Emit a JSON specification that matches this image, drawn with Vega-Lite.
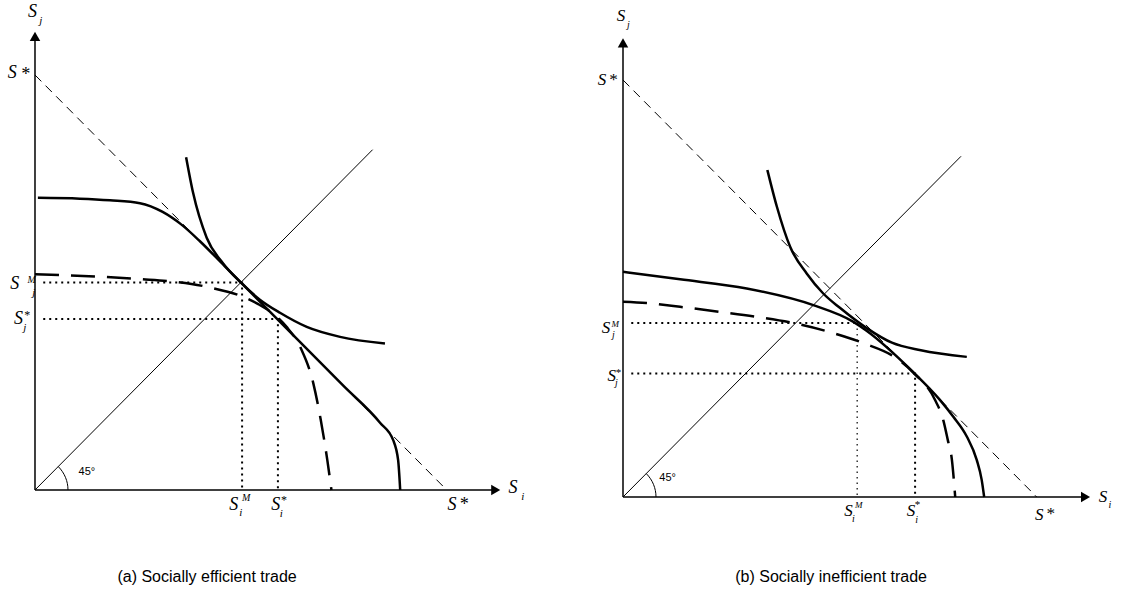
{
  "$schema": "https://vega.github.io/schema/vega-lite/v6.json",
  "padding": 0,
  "spacing": 0,
  "bounds": "flush",
  "background": "white",
  "config": {"view": {"stroke": null}, "concat": {"spacing": 0}},
  "datasets": {
    "curves": [
      {"p":"a","c":"xaxis","k":0,"x":0,"y":0},{"p":"a","c":"xaxis","k":1,"x":11.19,"y":0},
      {"p":"a","c":"yaxis","k":0,"x":0,"y":0},{"p":"a","c":"yaxis","k":1,"x":0,"y":10.93},
      {"p":"a","c":"sline","k":0,"x":0,"y":10},{"p":"a","c":"sline","k":1,"x":10,"y":0},
      {"p":"a","c":"diag","k":0,"x":0,"y":0},{"p":"a","c":"diag","k":1,"x":8.2,"y":8.2},
      {"p":"a","c":"dotM","k":0,"x":0.2,"y":5.0},{"p":"a","c":"dotM","k":1,"x":5.03,"y":5.0},{"p":"a","c":"dotM","k":2,"x":5.03,"y":0},
      {"p":"a","c":"dotS","k":0,"x":0.2,"y":4.12},{"p":"a","c":"dotS","k":1,"x":5.9,"y":4.12},{"p":"a","c":"dotS","k":2,"x":5.9,"y":0},
      {"p":"a","c":"conv","k":0,"x":3.67,"y":8.02},{"p":"a","c":"conv","k":1,"x":3.84,"y":7.16},{"p":"a","c":"conv","k":2,"x":4.17,"y":6.08},{"p":"a","c":"conv","k":3,"x":4.57,"y":5.46},{"p":"a","c":"conv","k":4,"x":5.0,"y":5.0},{"p":"a","c":"conv","k":5,"x":5.47,"y":4.58},{"p":"a","c":"conv","k":6,"x":5.95,"y":4.27},{"p":"a","c":"conv","k":7,"x":6.60,"y":3.93},{"p":"a","c":"conv","k":8,"x":7.41,"y":3.69},{"p":"a","c":"conv","k":9,"x":8.50,"y":3.53},
      {"p":"a","c":"ppf","k":0,"x":0.07,"y":7.04},{"p":"a","c":"ppf","k":1,"x":1.09,"y":7.02},{"p":"a","c":"ppf","k":2,"x":1.82,"y":6.98},{"p":"a","c":"ppf","k":3,"x":2.55,"y":6.91},{"p":"a","c":"ppf","k":4,"x":3.1,"y":6.70},{"p":"a","c":"ppf","k":5,"x":3.55,"y":6.40},{"p":"a","c":"ppf","k":6,"x":4.0,"y":6.0},{"p":"a","c":"ppf","k":7,"x":4.6,"y":5.4},{"p":"a","c":"ppf","k":8,"x":6.0,"y":4.0},{"p":"a","c":"ppf","k":9,"x":7.5,"y":2.5},{"p":"a","c":"ppf","k":10,"x":8.38,"y":1.62},{"p":"a","c":"ppf","k":11,"x":8.70,"y":1.2},{"p":"a","c":"ppf","k":12,"x":8.82,"y":0.72},{"p":"a","c":"ppf","k":13,"x":8.87,"y":0},
      {"p":"a","c":"dash","k":0,"x":0,"y":5.2},{"p":"a","c":"dash","k":1,"x":0.61,"y":5.18},{"p":"a","c":"dash","k":2,"x":1.58,"y":5.14},{"p":"a","c":"dash","k":3,"x":2.6,"y":5.08},{"p":"a","c":"dash","k":4,"x":3.36,"y":5.02},{"p":"a","c":"dash","k":5,"x":4.25,"y":4.88},{"p":"a","c":"dash","k":6,"x":5.14,"y":4.62},{"p":"a","c":"dash","k":7,"x":5.42,"y":4.48},{"p":"a","c":"dash","k":8,"x":5.91,"y":4.14},{"p":"a","c":"dash","k":9,"x":6.11,"y":3.93},{"p":"a","c":"dash","k":10,"x":6.46,"y":3.41},{"p":"a","c":"dash","k":11,"x":6.76,"y":2.57},{"p":"a","c":"dash","k":12,"x":6.94,"y":1.69},{"p":"a","c":"dash","k":13,"x":7.1,"y":0.72},{"p":"a","c":"dash","k":14,"x":7.2,"y":0},

      {"p":"b","c":"xaxis","k":0,"x":0,"y":0},{"p":"b","c":"xaxis","k":1,"x":11.18,"y":0},
      {"p":"b","c":"yaxis","k":0,"x":0,"y":0},{"p":"b","c":"yaxis","k":1,"x":0,"y":10.89},
      {"p":"b","c":"sline","k":0,"x":0,"y":10},{"p":"b","c":"sline","k":1,"x":10,"y":0},
      {"p":"b","c":"diag","k":0,"x":0,"y":0},{"p":"b","c":"diag","k":1,"x":8.17,"y":8.17},
      {"p":"b","c":"dotM","k":0,"x":0.2,"y":4.17},{"p":"b","c":"dotM","k":1,"x":5.66,"y":4.17},
      {"p":"b","c":"dotMv","k":0,"x":5.66,"y":4.17},{"p":"b","c":"dotMv","k":1,"x":5.66,"y":0},
      {"p":"b","c":"dotS","k":0,"x":0.2,"y":2.96},{"p":"b","c":"dotS","k":1,"x":7.06,"y":2.96},{"p":"b","c":"dotS","k":2,"x":7.06,"y":0},
      {"p":"b","c":"conv","k":0,"x":3.49,"y":7.84},{"p":"b","c":"conv","k":1,"x":3.72,"y":6.96},{"p":"b","c":"conv","k":2,"x":4.04,"y":6.0},{"p":"b","c":"conv","k":3,"x":4.44,"y":5.36},{"p":"b","c":"conv","k":4,"x":4.84,"y":4.88},{"p":"b","c":"conv","k":5,"x":5.25,"y":4.53},{"p":"b","c":"conv","k":6,"x":5.89,"y":4.05},{"p":"b","c":"conv","k":7,"x":6.5,"y":3.70},{"p":"b","c":"conv","k":8,"x":7.2,"y":3.52},{"p":"b","c":"conv","k":9,"x":8.31,"y":3.36},
      {"p":"b","c":"ppf","k":0,"x":0,"y":5.40},{"p":"b","c":"ppf","k":1,"x":1.38,"y":5.22},{"p":"b","c":"ppf","k":2,"x":2.99,"y":5.0},{"p":"b","c":"ppf","k":3,"x":4.60,"y":4.60},{"p":"b","c":"ppf","k":4,"x":5.57,"y":4.20},{"p":"b","c":"ppf","k":5,"x":5.87,"y":4.0},{"p":"b","c":"ppf","k":6,"x":7.01,"y":3.0},{"p":"b","c":"ppf","k":7,"x":7.66,"y":2.33},{"p":"b","c":"ppf","k":8,"x":7.98,"y":1.93},{"p":"b","c":"ppf","k":9,"x":8.31,"y":1.45},{"p":"b","c":"ppf","k":10,"x":8.55,"y":0.89},{"p":"b","c":"ppf","k":11,"x":8.67,"y":0.41},{"p":"b","c":"ppf","k":12,"x":8.73,"y":0},
      {"p":"b","c":"dash","k":0,"x":0,"y":4.68},{"p":"b","c":"dash","k":1,"x":0.57,"y":4.65},{"p":"b","c":"dash","k":2,"x":1.38,"y":4.56},{"p":"b","c":"dash","k":3,"x":2.34,"y":4.44},{"p":"b","c":"dash","k":4,"x":3.23,"y":4.32},{"p":"b","c":"dash","k":5,"x":4.12,"y":4.17},{"p":"b","c":"dash","k":6,"x":5.08,"y":3.93},{"p":"b","c":"dash","k":7,"x":5.81,"y":3.69},{"p":"b","c":"dash","k":8,"x":6.62,"y":3.32},{"p":"b","c":"dash","k":9,"x":7.01,"y":2.99},{"p":"b","c":"dash","k":10,"x":7.54,"y":2.33},{"p":"b","c":"dash","k":11,"x":7.74,"y":1.85},{"p":"b","c":"dash","k":12,"x":7.85,"y":1.37},{"p":"b","c":"dash","k":13,"x":7.95,"y":0.89},{"p":"b","c":"dash","k":14,"x":8.03,"y":0}
    ],
    "marks": [
      {"p":"a","kind":"up","x":0,"y":10.93},{"p":"a","kind":"right","x":11.19,"y":0},{"p":"a","kind":"arc","x":0,"y":0},
      {"p":"b","kind":"up","x":0,"y":10.89},{"p":"b","kind":"right","x":11.18,"y":0},{"p":"b","kind":"arc","x":0,"y":0}
    ],
    "labels": [
      {"p":"a","r":"S","t":"S","x":-0.06,"y":11.52},{"p":"a","r":"sub","t":"j","x":0.14,"y":11.3},
      {"p":"a","r":"S","t":"S","x":-0.55,"y":10.04},{"p":"a","r":"S","t":"*","x":-0.24,"y":10.0},
      {"p":"a","r":"S","t":"S","x":-0.49,"y":4.96},{"p":"a","r":"sup","t":"M","x":-0.08,"y":5.06},{"p":"a","r":"sub","t":"j","x":-0.03,"y":4.75},
      {"p":"a","r":"S","t":"S","x":-0.40,"y":4.12},{"p":"a","r":"star","t":"*","x":-0.19,"y":4.22},{"p":"a","r":"sub","t":"j","x":-0.25,"y":3.90},
      {"p":"a","r":"S","t":"S","x":4.83,"y":-0.36},{"p":"a","r":"sup","t":"M","x":5.13,"y":-0.19},{"p":"a","r":"sub","t":"i","x":5.0,"y":-0.55},
      {"p":"a","r":"S","t":"S","x":5.85,"y":-0.36},{"p":"a","r":"star","t":"*","x":6.05,"y":-0.24},{"p":"a","r":"sub","t":"i","x":5.98,"y":-0.57},
      {"p":"a","r":"S","t":"S","x":10.13,"y":-0.37},{"p":"a","r":"S","t":"*","x":10.41,"y":-0.36},
      {"p":"a","r":"S","t":"S","x":11.61,"y":0.05},{"p":"a","r":"sub","t":"i","x":11.85,"y":-0.17},
      {"p":"a","r":"deg","t":"45°","x":1.26,"y":0.43},
      {"p":"a","r":"cap","t":"(a) Socially efficient trade","x":4.18,"y":-2.10},

      {"p":"b","r":"S","t":"S","x":-0.05,"y":11.53},{"p":"b","r":"sub","t":"j","x":0.13,"y":11.32},
      {"p":"b","r":"S","t":"S","x":-0.51,"y":10.0},{"p":"b","r":"S","t":"*","x":-0.25,"y":10.0},
      {"p":"b","r":"S","t":"S","x":-0.41,"y":4.05},{"p":"b","r":"sup","t":"M","x":-0.19,"y":4.15},{"p":"b","r":"sub","t":"j","x":-0.23,"y":3.88},
      {"p":"b","r":"S","t":"S","x":-0.27,"y":2.90},{"p":"b","r":"star","t":"*","x":-0.11,"y":2.98},{"p":"b","r":"sub","t":"j","x":-0.16,"y":2.74},
      {"p":"b","r":"S","t":"S","x":5.45,"y":-0.34},{"p":"b","r":"sup","t":"M","x":5.70,"y":-0.20},{"p":"b","r":"sub","t":"i","x":5.57,"y":-0.53},
      {"p":"b","r":"S","t":"S","x":6.96,"y":-0.34},{"p":"b","r":"star","t":"*","x":7.12,"y":-0.18},{"p":"b","r":"sub","t":"i","x":7.10,"y":-0.55},
      {"p":"b","r":"S","t":"S","x":10.06,"y":-0.43},{"p":"b","r":"S","t":"*","x":10.32,"y":-0.41},
      {"p":"b","r":"S","t":"S","x":11.60,"y":0.0},{"p":"b","r":"sub","t":"i","x":11.77,"y":-0.19},
      {"p":"b","r":"deg","t":"45°","x":1.08,"y":0.46},
      {"p":"b","r":"cap","t":"(b) Socially inefficient trade","x":5.03,"y":-1.92}
    ]
  },
  "hconcat": [
    {
      "width": 562, "height": 599,
      "encoding": {
        "x": {"field": "x", "type": "quantitative", "axis": null, "scale": {"domain": [-0.85, 12.8], "nice": false, "zero": false}},
        "y": {"field": "y", "type": "quantitative", "axis": null, "scale": {"domain": [-2.627, 11.807], "nice": false, "zero": false}}
      },
      "layer": [
        {"data": {"name": "curves"}, "transform": [{"filter": "datum.p === 'a' && (datum.c === 'xaxis' || datum.c === 'yaxis')"}],
         "mark": {"type": "line", "color": "black", "strokeWidth": 1.5}, "encoding": {"detail": {"field": "c"}, "order": {"field": "k"}}},
        {"data": {"name": "curves"}, "transform": [{"filter": "datum.p === 'a' && datum.c === 'sline'"}],
         "mark": {"type": "line", "color": "black", "strokeWidth": 1, "strokeDash": [9, 6]}, "encoding": {"order": {"field": "k"}}},
        {"data": {"name": "curves"}, "transform": [{"filter": "datum.p === 'a' && datum.c === 'diag'"}],
         "mark": {"type": "line", "color": "black", "strokeWidth": 1}, "encoding": {"order": {"field": "k"}}},
        {"data": {"name": "curves"}, "transform": [{"filter": "datum.p === 'a' && (datum.c === 'dotM' || datum.c === 'dotS')"}],
         "mark": {"type": "line", "color": "black", "strokeWidth": 2, "strokeDash": [2, 4], "strokeCap": "butt"}, "encoding": {"detail": {"field": "c"}, "order": {"field": "k"}}},
        {"data": {"name": "curves"}, "transform": [{"filter": "datum.p === 'a' && (datum.c === 'conv' || datum.c === 'ppf')"}],
         "mark": {"type": "line", "color": "black", "strokeWidth": 2.5, "interpolate": "monotone"}, "encoding": {"detail": {"field": "c"}, "order": {"field": "k"}}},
        {"data": {"name": "curves"}, "transform": [{"filter": "datum.p === 'a' && datum.c === 'dash'"}],
         "mark": {"type": "line", "color": "black", "strokeWidth": 2.5, "strokeDash": [24, 12], "interpolate": "monotone"}, "encoding": {"order": {"field": "k"}}},
        {"data": {"name": "marks"}, "transform": [{"filter": "datum.p === 'a' && datum.kind !== 'arc'"}],
         "mark": {"type": "point", "filled": true, "color": "black", "opacity": 1, "size": 110},
         "encoding": {"shape": {"field": "kind", "type": "nominal", "legend": null, "scale": {"domain": ["up", "right"], "range": ["triangle-up", "triangle-right"]}}}},
        {"data": {"name": "marks"}, "transform": [{"filter": "datum.p === 'a' && datum.kind === 'arc'"}],
         "mark": {"type": "point", "filled": false, "stroke": "black", "strokeWidth": 1, "opacity": 1, "size": 4356, "shape": "M 1 0 A 1 1 0 0 0 0.7071 -0.7071"}},
        {"data": {"name": "labels"}, "transform": [{"filter": "datum.p === 'a' && datum.r === 'S'"}],
         "mark": {"type": "text", "font": "Liberation Serif", "fontStyle": "italic", "fontSize": 18, "align": "center", "baseline": "middle", "color": "black"}, "encoding": {"text": {"field": "t"}}},
        {"data": {"name": "labels"}, "transform": [{"filter": "datum.p === 'a' && datum.r === 'sub'"}],
         "mark": {"type": "text", "font": "Liberation Serif", "fontStyle": "italic", "fontSize": 11, "align": "center", "baseline": "middle", "color": "black"}, "encoding": {"text": {"field": "t"}}},
        {"data": {"name": "labels"}, "transform": [{"filter": "datum.p === 'a' && datum.r === 'sup'"}],
         "mark": {"type": "text", "font": "Liberation Serif", "fontStyle": "italic", "fontSize": 10, "align": "center", "baseline": "middle", "color": "black"}, "encoding": {"text": {"field": "t"}}},
        {"data": {"name": "labels"}, "transform": [{"filter": "datum.p === 'a' && datum.r === 'star'"}],
         "mark": {"type": "text", "font": "Liberation Serif", "fontSize": 12, "align": "center", "baseline": "middle", "color": "black"}, "encoding": {"text": {"field": "t"}}},
        {"data": {"name": "labels"}, "transform": [{"filter": "datum.p === 'a' && datum.r === 'deg'"}],
         "mark": {"type": "text", "font": "Liberation Sans", "fontSize": 11, "align": "center", "baseline": "middle", "color": "black"}, "encoding": {"text": {"field": "t"}}},
        {"data": {"name": "labels"}, "transform": [{"filter": "datum.p === 'a' && datum.r === 'cap'"}],
         "mark": {"type": "text", "font": "Liberation Sans", "fontSize": 16, "align": "center", "baseline": "middle", "color": "black"}, "encoding": {"text": {"field": "t"}}}
      ]
    },
    {
      "width": 563, "height": 599,
      "encoding": {
        "x": {"field": "x", "type": "quantitative", "axis": null, "scale": {"domain": [-1.4745, 12.134], "nice": false, "zero": false}},
        "y": {"field": "y", "type": "quantitative", "axis": null, "scale": {"domain": [-2.446, 11.918], "nice": false, "zero": false}}
      },
      "layer": [
        {"data": {"name": "curves"}, "transform": [{"filter": "datum.p === 'b' && (datum.c === 'xaxis' || datum.c === 'yaxis')"}],
         "mark": {"type": "line", "color": "black", "strokeWidth": 1.5}, "encoding": {"detail": {"field": "c"}, "order": {"field": "k"}}},
        {"data": {"name": "curves"}, "transform": [{"filter": "datum.p === 'b' && datum.c === 'sline'"}],
         "mark": {"type": "line", "color": "black", "strokeWidth": 1, "strokeDash": [9, 6]}, "encoding": {"order": {"field": "k"}}},
        {"data": {"name": "curves"}, "transform": [{"filter": "datum.p === 'b' && datum.c === 'diag'"}],
         "mark": {"type": "line", "color": "black", "strokeWidth": 1}, "encoding": {"order": {"field": "k"}}},
        {"data": {"name": "curves"}, "transform": [{"filter": "datum.p === 'b' && (datum.c === 'dotM' || datum.c === 'dotS')"}],
         "mark": {"type": "line", "color": "black", "strokeWidth": 2, "strokeDash": [2, 4], "strokeCap": "butt"}, "encoding": {"detail": {"field": "c"}, "order": {"field": "k"}}},
        {"data": {"name": "curves"}, "transform": [{"filter": "datum.p === 'b' && datum.c === 'dotMv'"}],
         "mark": {"type": "line", "color": "black", "strokeWidth": 1.2, "strokeDash": [1.5, 4], "strokeCap": "butt"}, "encoding": {"order": {"field": "k"}}},
        {"data": {"name": "curves"}, "transform": [{"filter": "datum.p === 'b' && (datum.c === 'conv' || datum.c === 'ppf')"}],
         "mark": {"type": "line", "color": "black", "strokeWidth": 2.5, "interpolate": "monotone"}, "encoding": {"detail": {"field": "c"}, "order": {"field": "k"}}},
        {"data": {"name": "curves"}, "transform": [{"filter": "datum.p === 'b' && datum.c === 'dash'"}],
         "mark": {"type": "line", "color": "black", "strokeWidth": 2.5, "strokeDash": [24, 12], "interpolate": "monotone"}, "encoding": {"order": {"field": "k"}}},
        {"data": {"name": "marks"}, "transform": [{"filter": "datum.p === 'b' && datum.kind !== 'arc'"}],
         "mark": {"type": "point", "filled": true, "color": "black", "opacity": 1, "size": 110},
         "encoding": {"shape": {"field": "kind", "type": "nominal", "legend": null, "scale": {"domain": ["up", "right"], "range": ["triangle-up", "triangle-right"]}}}},
        {"data": {"name": "marks"}, "transform": [{"filter": "datum.p === 'b' && datum.kind === 'arc'"}],
         "mark": {"type": "point", "filled": false, "stroke": "black", "strokeWidth": 1, "opacity": 1, "size": 4356, "shape": "M 1 0 A 1 1 0 0 0 0.7071 -0.7071"}},
        {"data": {"name": "labels"}, "transform": [{"filter": "datum.p === 'b' && datum.r === 'S'"}],
         "mark": {"type": "text", "font": "Liberation Serif", "fontStyle": "italic", "fontSize": 17, "align": "center", "baseline": "middle", "color": "black"}, "encoding": {"text": {"field": "t"}}},
        {"data": {"name": "labels"}, "transform": [{"filter": "datum.p === 'b' && datum.r === 'sub'"}],
         "mark": {"type": "text", "font": "Liberation Serif", "fontStyle": "italic", "fontSize": 10, "align": "center", "baseline": "middle", "color": "black"}, "encoding": {"text": {"field": "t"}}},
        {"data": {"name": "labels"}, "transform": [{"filter": "datum.p === 'b' && datum.r === 'sup'"}],
         "mark": {"type": "text", "font": "Liberation Serif", "fontStyle": "italic", "fontSize": 9, "align": "center", "baseline": "middle", "color": "black"}, "encoding": {"text": {"field": "t"}}},
        {"data": {"name": "labels"}, "transform": [{"filter": "datum.p === 'b' && datum.r === 'star'"}],
         "mark": {"type": "text", "font": "Liberation Serif", "fontSize": 11, "align": "center", "baseline": "middle", "color": "black"}, "encoding": {"text": {"field": "t"}}},
        {"data": {"name": "labels"}, "transform": [{"filter": "datum.p === 'b' && datum.r === 'deg'"}],
         "mark": {"type": "text", "font": "Liberation Sans", "fontSize": 11, "align": "center", "baseline": "middle", "color": "black"}, "encoding": {"text": {"field": "t"}}},
        {"data": {"name": "labels"}, "transform": [{"filter": "datum.p === 'b' && datum.r === 'cap'"}],
         "mark": {"type": "text", "font": "Liberation Sans", "fontSize": 16, "align": "center", "baseline": "middle", "color": "black"}, "encoding": {"text": {"field": "t"}}}
      ]
    }
  ]
}
